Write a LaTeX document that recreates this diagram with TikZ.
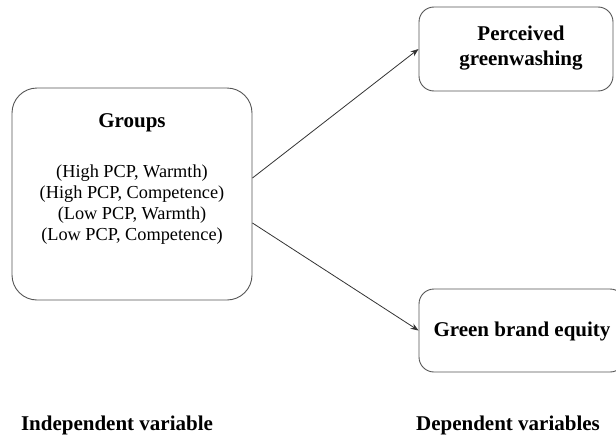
\documentclass[tikz,border=0pt]{standalone}
\usepackage{fontspec}
\setmainfont{Liberation Serif}
\usetikzlibrary{arrows.meta}
\definecolor{edgegray}{HTML}{555555}
\definecolor{arrowgray}{HTML}{333333}
\tikzset{
  box/.style={draw=edgegray, line width=0.9pt, inner sep=0pt, align=center},
  headtext/.style={font=\fontsize{21}{25}\selectfont\bfseries, align=center, inner sep=0pt},
  bodytext/.style={font=\fontsize{18.3}{21}\selectfont, align=center, inner sep=0pt},
  link/.style={draw=arrowgray, line width=0.8pt, -{Stealth[length=8pt,width=6pt]}}
}
\begin{document}
\begin{tikzpicture}[x=1pt,y=-1pt]
\useasboundingbox (0,0) rectangle (616,439);
\clip (0,0) rectangle (616,439);
\node[box, rounded corners=25pt, minimum width=240pt, minimum height=212pt] (grp) at (132,194) {};
\node[headtext] (grpT) at (132,123) {Groups};
\node[bodytext] (grpL) at (132,204.5) {(High PCP, Warmth)\\(High PCP, Competence)\\(Low PCP, Warmth)\\(Low PCP, Competence)};
\node[box, rounded corners=15pt, minimum width=194pt, minimum height=84pt] (pg) at (516,49) {};
\node[headtext] (pgT) at (521,48) {Perceived\\greenwashing};
\node[box, rounded corners=15pt, minimum width=206pt, minimum height=83pt] (gbe) at (522,330.5) {};
\node[headtext] (gbeT) at (522,331) {Green brand equity};
\node[headtext] (iv) at (117,425) {Independent variable};
\node[headtext] (dv) at (508,425) {Dependent variables};
\draw[link] ([yshift=16pt]grp.east) -- (pg.west);
\draw[link] ([yshift=-29pt]grp.east) -- (gbe.west);
\end{tikzpicture}
\end{document}
